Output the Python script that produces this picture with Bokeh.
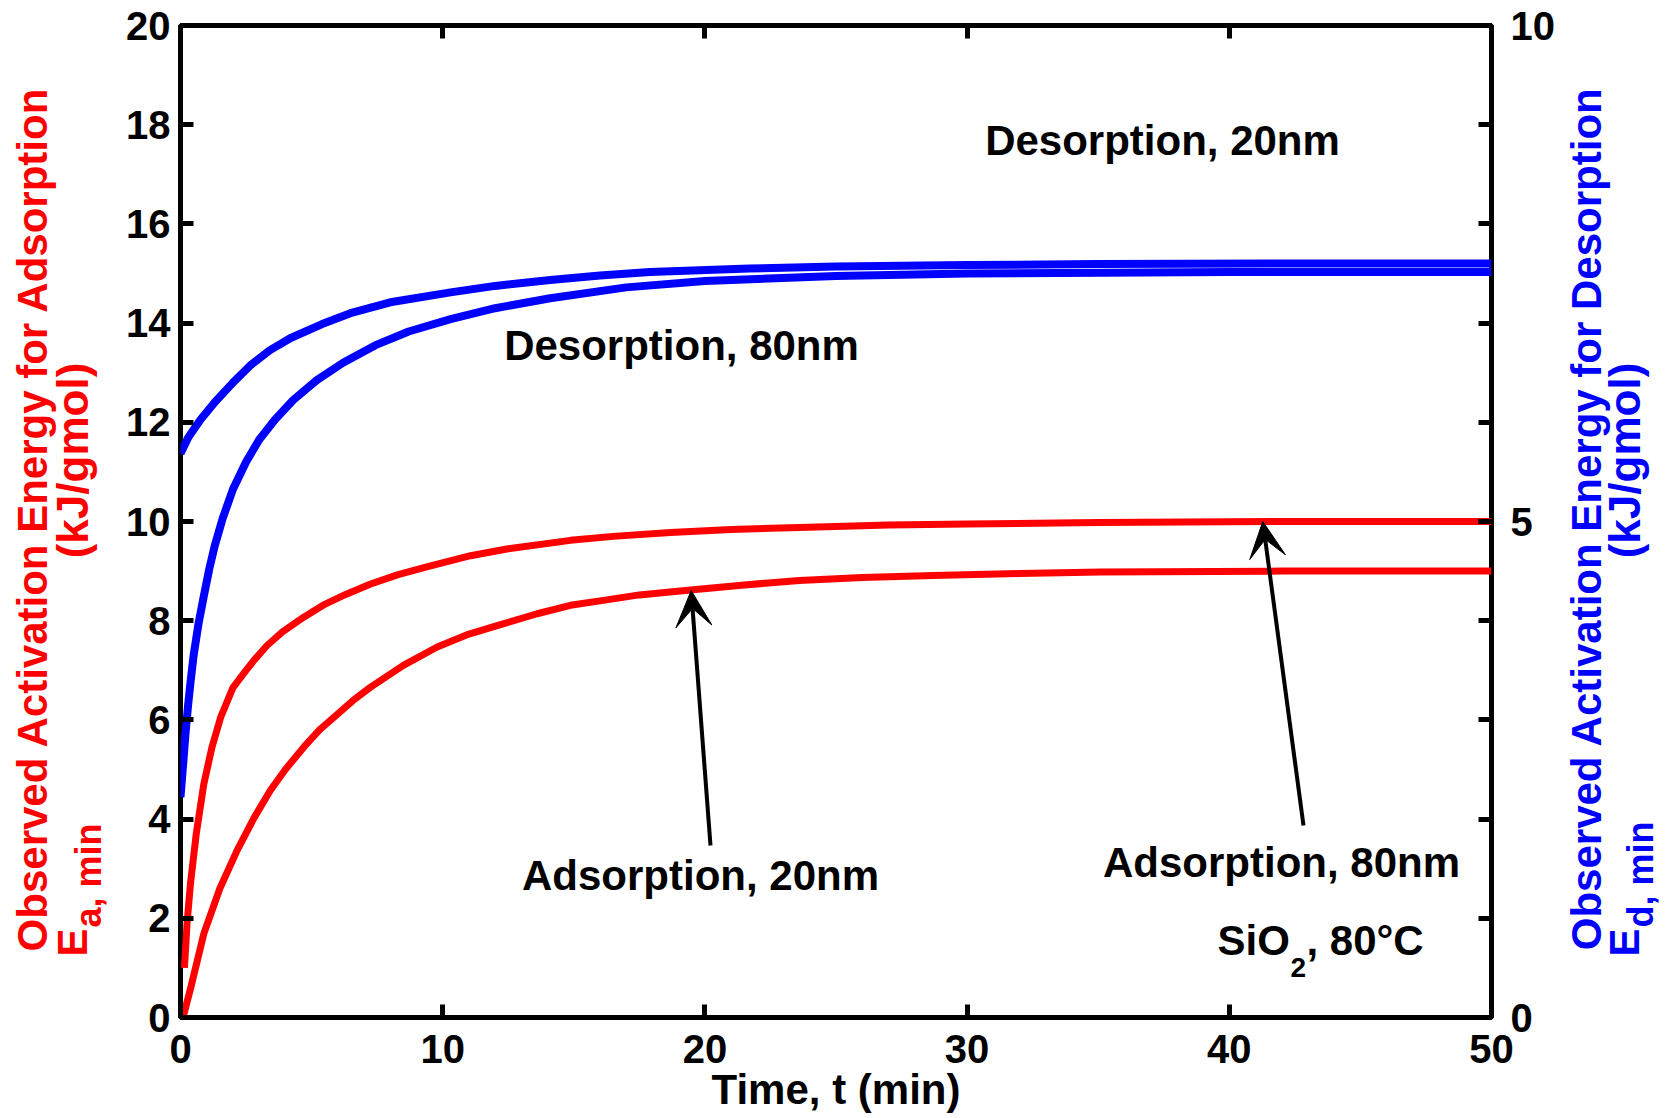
from bokeh.plotting import figure
from bokeh.layouts import row
from bokeh.models import Range1d, LinearAxis, FixedTicker, Label, Arrow, VeeHead
from bokeh.embed import file_html
from bokeh.resources import INLINE

# ---------------- data ----------------
# Adsorption, 80nm (left axis, kJ/gmol)
t_ads80 = [0.15, 0.25, 0.38, 0.6, 0.89, 1.2, 1.53, 2.0, 2.5, 2.8, 3.3, 3.9, 4.7, 5.5, 6.3, 7.25, 8.3, 9.5,
           11.06, 12.5, 14.87, 16.5, 18.69, 21.0, 23.6, 27.0, 30.0, 35.0, 42.0, 50.0]
e_ads80 = [1.0, 1.9, 2.7, 3.7, 4.71, 5.45, 6.05, 6.65, 7.0, 7.2, 7.5, 7.78, 8.07, 8.33, 8.53, 8.74, 8.93, 9.1,
           9.31, 9.45, 9.62, 9.7, 9.78, 9.84, 9.88, 9.93, 9.95, 9.98, 10.0, 10.0]

# Adsorption, 20nm (left axis, kJ/gmol)
t_ads20 = [0.12, 0.4, 0.89, 1.5, 2.16, 2.8, 3.43, 4.0, 4.7, 5.3, 6.0, 6.6, 7.25, 8.5, 9.79, 11.0, 12.33, 13.6,
           14.87, 16.0, 17.5, 19.45, 21.5, 23.6, 26.0, 28.7, 32.0, 35.1, 42.0, 50.0]
e_ads20 = [0.05, 0.62, 1.69, 2.6, 3.37, 4.02, 4.58, 5.0, 5.45, 5.8, 6.12, 6.4, 6.66, 7.1, 7.47, 7.73, 7.94, 8.14,
           8.31, 8.40, 8.52, 8.62, 8.72, 8.81, 8.87, 8.91, 8.95, 8.98, 9.0, 9.0]

# Desorption, 20nm (right axis, kJ/gmol)
t_des20 = [0.0, 0.3, 0.76, 1.3, 2.0, 2.67, 3.4, 4.2, 5.4, 6.48, 8.0, 10.3, 12.0, 14.1, 16.0, 17.9, 21.7, 25.0,
           30.0, 35.0, 42.0, 50.0]
e_des20 = [5.685, 5.85, 6.025, 6.2, 6.4, 6.575, 6.725, 6.85, 6.99, 7.1, 7.21, 7.31, 7.375, 7.435, 7.48, 7.515,
           7.55, 7.57, 7.585, 7.595, 7.6, 7.6]

# Desorption, 80nm (right axis, kJ/gmol)
t_des80 = [0.0, 0.1, 0.19, 0.29, 0.38, 0.5, 0.69, 0.89, 1.1, 1.3, 1.6, 2.0, 2.5, 3.0, 3.6, 4.3, 5.2, 6.2, 7.42,
           8.7, 10.3, 12.0, 14.1, 17.0, 20.0, 25.0, 30.0, 40.0, 50.0]
e_des80 = [2.22, 2.55, 2.86, 3.15, 3.375, 3.65, 3.975, 4.25, 4.525, 4.75, 5.025, 5.325, 5.6, 5.825, 6.025, 6.225,
           6.425, 6.6, 6.775, 6.915, 7.04, 7.15, 7.25, 7.36, 7.425, 7.475, 7.5, 7.515, 7.515]

x_ticks = [0, 10, 20, 30, 40, 50]
y_left_ticks = [0, 2, 4, 6, 8, 10, 12, 14, 16, 18, 20]
y_right_ticks = [0, 5, 10]
y_right_minor = [0, 1, 2, 3, 4, 5, 6, 7, 8, 9, 10]

# ---------------- layout ----------------
FONT = "Liberation Sans"
PAGE_W, PAGE_H = 1673, 1116
LEFT_W = 110
RIGHT_X0 = 1562
FL, FR, FT, FB = 180, 1491, 25, 1017   # frame edges in page pixels
XMIN, XMAX, YMIN, YMAX = 0, 50, 0, 20


def px2x(px):
    return XMIN + (px - FL) / (FR - FL) * (XMAX - XMIN)


def px2y(py):
    return YMIN + (FB - py) / (FB - FT) * (YMAX - YMIN)


p = figure(width=RIGHT_X0 - LEFT_W, height=PAGE_H, output_backend="svg", toolbar_location=None,
           x_range=Range1d(XMIN, XMAX), y_range=Range1d(YMIN, YMAX),
           min_border_left=FL - LEFT_W, min_border_right=RIGHT_X0 - FR, min_border_top=FT,
           min_border_bottom=PAGE_H - FB)
p.extra_y_ranges = {"right": Range1d(0, 10)}
p.grid.visible = False
p.outline_line_color = "black"
p.outline_line_width = 5
p.background_fill_color = "white"
p.border_fill_color = "white"


def style_axis(ax, size="40px", standoff=10):
    ax.axis_line_color = None
    ax.major_tick_in = 13
    ax.major_tick_out = 0
    ax.major_tick_line_width = 5
    ax.major_tick_line_color = "black"
    ax.minor_tick_line_color = None
    ax.major_label_text_font = FONT
    ax.major_label_text_font_style = "bold"
    ax.major_label_text_font_size = size
    ax.major_label_text_color = "black"
    ax.major_label_standoff = standoff


xb = p.xaxis[0]
xb.ticker = FixedTicker(ticks=x_ticks)
style_axis(xb, standoff=17)
xb.axis_label = "Time, t (min)"
xb.axis_label_text_font = FONT
xb.axis_label_text_font_style = "bold"
xb.axis_label_text_font_size = "42px"
xb.axis_label_text_color = "black"
xb.axis_label_standoff = 0

yl = p.yaxis[0]
yl.ticker = FixedTicker(ticks=y_left_ticks)
style_axis(yl, standoff=10)

xt = LinearAxis(ticker=FixedTicker(ticks=x_ticks))
style_axis(xt, size="1px", standoff=0)
xt.major_label_text_color = None
p.add_layout(xt, "above")

yr = LinearAxis(y_range_name="right", ticker=FixedTicker(ticks=y_right_ticks, minor_ticks=y_right_minor))
style_axis(yr, standoff=19)
yr.minor_tick_line_color = "black"
yr.minor_tick_line_width = 5
yr.minor_tick_in = 13
yr.minor_tick_out = 0
p.add_layout(yr, "right")

# ---------------- curves ----------------
p.line(t_ads80, e_ads80, line_color="#ff0000", line_width=7, line_join="round")
p.line(t_ads20, e_ads20, line_color="#ff0000", line_width=7, line_join="round")
p.line(t_des20, e_des20, line_color="#0000ff", line_width=8, line_join="round", y_range_name="right")
p.line(t_des80, e_des80, line_color="#0000ff", line_width=8, line_join="round", y_range_name="right")


# ---------------- annotations ----------------
def lab(fig, text, x, y, size="42px", color="black", align="center", baseline="middle", angle=0):
    fig.add_layout(Label(x=x, y=y, text=text, text_font=FONT, text_font_style="bold",
                         text_font_size=size, text_color=color, text_align=align, text_baseline=baseline,
                         angle=angle, angle_units="deg"))


def plab(text, px, py, **kw):
    lab(p, text, px2x(px), px2y(py), **kw)


plab("Desorption, 20nm", 1162, 139.5)
plab("Desorption, 80nm", 681, 345)
plab("Adsorption, 20nm", 700, 875)
plab("Adsorption, 80nm", 1281, 862)

# SiO2, 80°C
plab("SiO", 1217, 940, align="left")
plab("2", 1290, 967, size="28px", align="left")
plab(", 80°C", 1306, 940, align="left")

# arrows
for (x0, y0, x1, y1) in [(710, 845, 690.7, 590), (1303, 825, 1262.3, 521)]:
    p.add_layout(Arrow(end=VeeHead(size=36, fill_color="black", line_color="black", line_width=1),
                       x_start=px2x(x0), y_start=px2y(y0), x_end=px2x(x1), y_end=px2y(y1),
                       line_width=4, line_color="black"))


def side_fig(x0, x1):
    f = figure(width=x1 - x0, height=PAGE_H, output_backend="svg", toolbar_location=None,
               x_range=Range1d(x0, x1), y_range=Range1d(FB, FT),
               x_axis_location=None, y_axis_location=None,
               min_border_left=0, min_border_right=0, min_border_top=FT, min_border_bottom=PAGE_H - FB)
    f.grid.visible = False
    f.outline_line_color = None
    f.background_fill_color = "white"
    f.border_fill_color = "white"
    return f


# left axis title (page pixel coordinates)
lf = side_fig(0, LEFT_W)
lab(lf, "Observed Activation Energy for Adsorption", 32, 518, color="#ff0000", angle=90)
lab(lf, "E", 72, 956, color="#ff0000", angle=90, align="left")
lab(lf, "a, min", 88, 927, size="36px", color="#ff0000", angle=90, align="left")
lab(lf, "(kJ/gmol)", 72, 460, size="44px", color="#ff0000", angle=90)

# right axis title
rf = side_fig(RIGHT_X0, PAGE_W)
lab(rf, "Observed Activation Energy for Desorption", 1586, 518, color="#0000ff", angle=90)
lab(rf, "E", 1624, 956, color="#0000ff", angle=90, align="left")
lab(rf, "d, min", 1640, 927, size="36px", color="#0000ff", angle=90, align="left")
lab(rf, "(kJ/gmol)", 1624, 460, size="44px", color="#0000ff", angle=90)

layout = row(lf, p, rf, spacing=0)
open("out.html", "w").write(file_html(layout, INLINE))
